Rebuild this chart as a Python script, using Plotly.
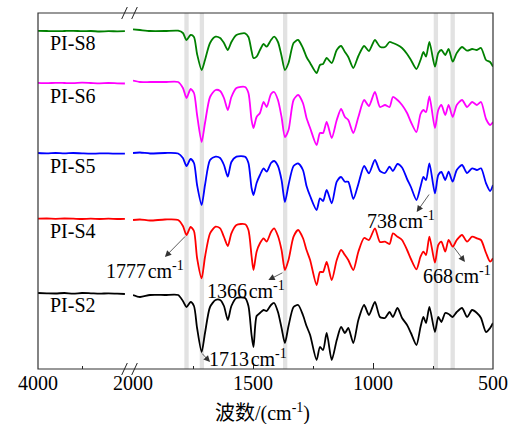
import plotly.graph_objects as go

# ---------------- data ----------------
series_names = ["PI-S8", "PI-S6", "PI-S5", "PI-S4", "PI-S2"]
series_colors = ["#008000", "#ff00ff", "#0000ff", "#ff0000", "#000000"]
series_offsets = [339, 287, 216, 149, 74]

# left (4000-2000 cm-1) segment
wn_left = [4000, 3800, 3600, 3400, 3200, 3000, 2800, 2600, 2400, 2200, 2025]
left_S8 = [-0.8, -1, -1.2, -1, -0.8, -1.2, -1, -1.5, -1.2, -1.3, -1.2]
left_S6 = [-0.8, -1.2, -0.8, -1, -1.2, -0.7, -1, -1.3, -1, -1.3, -1.5]
left_S5 = [0, -0.4, 0, -0.4, 0, -0.4, -0.7, -0.4, -0.4, -0.7, -0.7]
left_S4 = [1.3, 1.5, 1.2, 1.5, 1.3, 1.0, 1.3, 1.0, 1.3, 1.0, 1.2]
left_S2 = [2, 1.7, 1.5, 2, 1.3, 2, 1.7, 1.3, 1.7, 1.3, 1]

# right (2000-500 cm-1) segment
wn_right = [2000, 1971, 1929, 1867, 1812, 1792, 1777, 1760, 1746, 1733,
            1714, 1700, 1679, 1656, 1637, 1621, 1605, 1590, 1569, 1533,
            1519, 1506, 1498, 1485, 1471, 1456, 1443, 1425, 1412, 1396,
            1381, 1367, 1352, 1331, 1312, 1292, 1277, 1262, 1235, 1221,
            1208, 1193, 1172, 1151, 1133, 1117, 1103, 1082, 1061, 1037,
            1017, 992, 971, 950, 931, 917, 898, 879, 858, 842,
            819, 802, 790, 779, 765, 742, 728, 715, 699, 685,
            668, 651, 629, 608, 587, 567, 550, 529, 512, 500]

right_S8 = [0.7, 0, -1, -1, -0.7, -3, -10, -5, -7, -24,
            -40, -30, -13, -6.7, -8, -13, -20, -12, -5, -3.3,
            -7, -21, -28, -26.7, -20, -14, -16.7, -10, -6.7, -12,
            -26, -40, -33, -13, -10, -18, -27, -33, -43, -35,
            -34, -28, -33, -20, -16, -22, -27, -38, -26, -16,
            -21, -10, -16.7, -17, -12, -13, -15, -18, -24, -30,
            -39, -30, -22, -26.7, -12, -36.7, -23, -20, -25, -19,
            -31.7, -23, -17, -20.7, -19, -20, -18, -30, -32, -36.7]
right_S6 = [1.3, 0, 0, 0, 0, -6, -16, -7, -11, -33,
            -60, -41, -15, -8, -9, -16, -28, -15, -6, -5,
            -11, -38, -46, -35, -31, -20, -25, -12, -10, -18,
            -35, -55, -48, -18, -13, -21, -36, -46, -63, -51,
            -51, -40, -56, -38, -27, -35, -38, -51, -35, -18,
            -24, -10, -25, -23, -25, -15, -18, -23, -31, -40,
            -50, -32, -28, -30, -14.5, -46, -28, -23, -33, -23,
            -35, -23, -18, -25, -20, -23, -20, -37, -43, -40]
right_S5 = [0, 0.5, -0.5, 0, -0.5, -5, -13, -6, -10, -32,
            -52, -32, -7, -3.7, -5, -12, -23.7, -9, -3.7, -3.7,
            -10, -35, -42, -30, -22, -15.3, -18.7, -10, -8, -13,
            -27, -49, -32, -13, -10.5, -17, -33, -43, -57, -45.3,
            -48, -37, -50.3, -28.7, -24, -28.7, -28.7, -46, -31, -13,
            -20.3, -7, -18, -20, -13.7, -18, -11, -14.5, -26, -34,
            -47, -33.7, -24, -27, -10.3, -40.3, -22, -19, -27, -18.7,
            -28.7, -17, -12, -20, -15.3, -17, -15.3, -30.3, -38, -32]
right_S4 = [0, 0.5, -0.5, 0.5, 0, -6, -15, -7, -11, -38,
            -58.3, -37, -13.3, -6.7, -8.3, -17, -26, -13.3, -5, -4.3,
            -10, -36, -50, -31.7, -23.3, -18.3, -21.7, -12, -8.3, -16,
            -30, -50, -40, -16.7, -10, -18, -30, -40, -65, -52,
            -52, -42, -60, -40, -30, -35, -40, -50, -31.7, -18,
            -20, -8.3, -22, -21.7, -24, -13.3, -16.7, -20, -30, -39,
            -49.3, -36.7, -31.7, -35, -16.7, -42.7, -25, -21.7, -31.7, -20,
            -26.7, -20, -15, -21.7, -16.7, -18.3, -20, -33, -41.7, -38.3]
right_S2 = [0, -2, 0, 0, 0, -6, -12, -7, -11, -33,
            -57, -38, -12, -5, -5, -11, -25, -11, -3, -3,
            -11, -40, -52, -21, -18, -15, -16, -10, -8, -17,
            -33, -48, -31, -12, -10, -20, -31, -40, -65, -52,
            -55, -38, -65, -45, -32, -38, -33, -48, -25, -10,
            -20, -7, -22, -23, -17, -22, -13, -23, -30, -38,
            -50, -32, -22, -28, -12, -37, -22, -27, -18, -19,
            -22, -17, -13, -22, -15, -18, -23, -37, -33, -28]

left_values = [left_S8, left_S6, left_S5, left_S4, left_S2]
right_values = [right_S8, right_S6, right_S5, right_S4, right_S2]

band_centers = [1777, 1713, 1366, 738, 668]

left_ticks = [4000]
left_minor = [3000]
right_ticks = [2000, 1500, 1000, 500]
right_minor = [1750, 1250, 750]

# annotation labels: (text, arrow tail wn, tail y, head wn, head y, text paper x, text y)
peak_labels = [
    ("1777", 1777, 134, 1867, 112, 0.235, 99),
    ("1366", 1371, 97, 1436, 89, 0.457, 79),
    ("1713", 1718, 17, 1679, 7, 0.462, 11),
    ("738", 762, 176, 818, 157, 0.797, 149),
    ("668", 667, 123, 617, 107, 0.920, 94),
]
label_y = [326.5, 273.5, 203.5, 138, 64.5]

# ---------------- figure ----------------
SERIF = "Liberation Serif, Times New Roman, serif"
W, H = 514, 424
ML, MR, MT, MB = 38, 21, 13, 55
PW = W - ML - MR
left_end = (126 - ML) / PW
right_start = (133 - ML) / PW

fig = go.Figure()

for i, name in enumerate(series_names):
    off = series_offsets[i]
    fig.add_trace(go.Scatter(
        x=wn_left, y=[off + v for v in left_values[i]],
        xaxis="x", yaxis="y", mode="lines",
        line=dict(color=series_colors[i], width=1.8, shape="spline", smoothing=0.7),
        showlegend=False, hoverinfo="skip"))
    fig.add_trace(go.Scatter(
        x=wn_right, y=[off + v for v in right_values[i]],
        xaxis="x2", yaxis="y", mode="lines",
        line=dict(color=series_colors[i], width=1.8, shape="spline", smoothing=0.7),
        showlegend=False, hoverinfo="skip"))

shapes = []
for c in band_centers:
    shapes.append(dict(type="rect", xref="x2", yref="paper", x0=c - 9, x1=c + 9,
                       y0=0, y1=1, fillcolor="#e2e2e2", line=dict(width=0), layer="below"))
shapes.append(dict(type="rect", xref="paper", yref="paper", x0=0, x1=1, y0=0, y1=1,
                   line=dict(color="#333333", width=1.2)))
# axis break marks
brk_centers = [(124.5 - ML) / PW, (134.5 - ML) / PW]
for yy in [0, 1]:
    for bx in brk_centers:
        shapes.append(dict(type="line", xref="paper", yref="paper",
                           xsizemode="pixel", ysizemode="pixel",
                           xanchor=bx, yanchor=yy,
                           x0=-2.8, x1=2.8, y0=-6, y1=6,
                           line=dict(color="#222222", width=1)))

annotations = []
for i, name in enumerate(series_names):
    annotations.append(dict(text=name, xref="paper", yref="y", x=(48 - ML) / PW,
                            y=label_y[i], xanchor="left", yanchor="middle",
                            showarrow=False, font=dict(family=SERIF, size=20, color="black")))
for txt, tx, ty, hx, hy, px, py in peak_labels:
    annotations.append(dict(text="", xref="x2", yref="y", x=hx, y=hy,
                            axref="x2", ayref="y", ax=tx, ay=ty,
                            showarrow=True, arrowhead=2, arrowsize=1.6,
                            arrowwidth=0.8, arrowcolor="#333333"))
    annotations.append(dict(text=txt + "\u200acm<sup>-1</sup>", xref="paper", yref="y",
                            x=px, y=py, xanchor="center", yanchor="middle",
                            showarrow=False, font=dict(family=SERIF, size=20, color="black")))
annotations.append(dict(text="波数/(cm<sup>-1</sup>)", xref="paper", yref="paper",
                        x=(262 - ML) / PW, y=(369 - 412) / (H - MT - MB),
                        xanchor="center", yanchor="middle", showarrow=False,
                        font=dict(family=SERIF + ", Noto Sans CJK SC", size=20, color="black")))

axis_common = dict(showgrid=False, zeroline=False, showline=False, ticks="inside",
                   ticklen=6, tickwidth=1, tickcolor="#222222", automargin=False,
                   tickfont=dict(family=SERIF, size=20, color="black"))

fig.update_layout(
    width=W, height=H,
    margin=dict(l=ML, r=MR, t=MT, b=MB, autoexpand=False),
    paper_bgcolor="white", plot_bgcolor="white",
    xaxis=dict(domain=[0, left_end], range=[4000, 2000], anchor="y",
               tickmode="array", tickvals=left_ticks, ticktext=[str(v) for v in left_ticks],
               minor=dict(tickmode="array", tickvals=left_minor, ticks="inside",
                          ticklen=3, tickcolor="#222222"),
               **axis_common),
    xaxis2=dict(domain=[right_start, 1], range=[2000, 500], anchor="y",
                tickmode="array", tickvals=right_ticks, ticktext=[str(v) for v in right_ticks],
                minor=dict(tickmode="array", tickvals=right_minor, ticks="inside",
                           ticklen=3, tickcolor="#222222"),
                **axis_common),
    yaxis=dict(range=[0, H - MT - MB], visible=False, automargin=False),
    shapes=shapes, annotations=annotations,
)

fig.write_html("out.html")
